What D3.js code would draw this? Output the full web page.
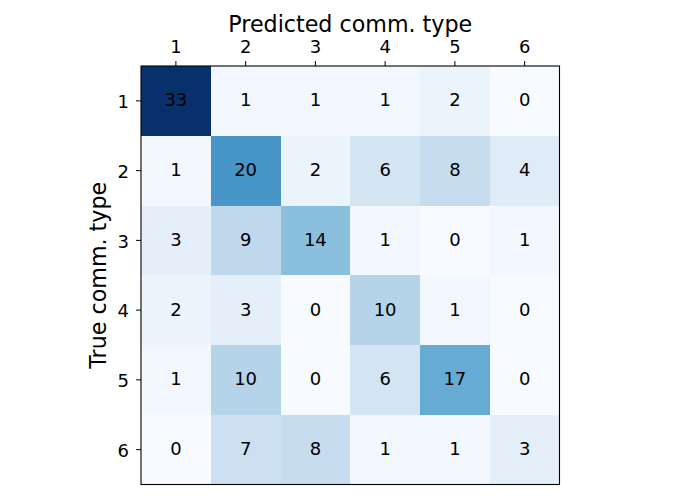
<!DOCTYPE html>
<html>
<head>
<meta charset="utf-8">
<script src="https://cdn.jsdelivr.net/npm/d3@7"></script>
<style>
  html, body { margin: 0; padding: 0; background: #fff; }
  svg { display: block; font-family: "DejaVu Sans", sans-serif; }
</style>
</head>
<body>
<svg id="chart" width="700" height="500"></svg>
<script>
// ---- data ----
const predictedLabels = ["1", "2", "3", "4", "5", "6"];
const trueLabels = ["1", "2", "3", "4", "5", "6"];
const row1 = [33, 1, 1, 1, 2, 0];
const row2 = [1, 20, 2, 6, 8, 4];
const row3 = [3, 9, 14, 1, 0, 1];
const row4 = [2, 3, 0, 10, 1, 0];
const row5 = [1, 10, 0, 6, 17, 0];
const row6 = [0, 7, 8, 1, 1, 3];
const matrix = [row1, row2, row3, row4, row5, row6];
const xTitle = "Predicted comm. type";
const yTitle = "True comm. type";

// matplotlib "Blues" stops
const bluesStops = ["#f7fbff", "#deebf7", "#c6dbef", "#9ecae1", "#6baed6",
                    "#4292c6", "#2171b5", "#08519c", "#08306b"];

const svg = d3.select("#chart");
const mLeft = 141, mTop = 66, size = 418.5;
const tickFont = 18, titleFont = 22.2;

const x = d3.scaleBand().domain(predictedLabels).range([mLeft, mLeft + size]);
const y = d3.scaleBand().domain(trueLabels).range([mTop, mTop + size]);

const vmax = d3.max(matrix.flat());
const vmin = d3.min(matrix.flat());
const color = d3.scaleLinear()
  .domain(bluesStops.map((_, i) => vmin + (vmax - vmin) * i / (bluesStops.length - 1)))
  .range(bluesStops)
  .interpolate(d3.interpolateRgb);

const cells = [];
matrix.forEach((row, i) => row.forEach((v, j) => cells.push({r: trueLabels[i], c: predictedLabels[j], v})));

svg.append("g").selectAll("rect").data(cells).join("rect")
  .attr("x", d => x(d.c))
  .attr("y", d => y(d.r))
  .attr("width", x.bandwidth() + 0.5)
  .attr("height", y.bandwidth() + 0.5)
  .attr("fill", d => color(d.v))
  .attr("shape-rendering", "crispEdges");

svg.append("g").selectAll("text").data(cells).join("text")
  .attr("x", d => x(d.c) + x.bandwidth() / 2)
  .attr("y", d => y(d.r) + y.bandwidth() / 2 + 5.6)
  .attr("text-anchor", "middle")
  .attr("font-size", tickFont)
  .attr("fill", "#000")
  .text(d => d.v);

// frame
svg.append("rect")
  .attr("x", mLeft).attr("y", mTop)
  .attr("width", size).attr("height", size)
  .attr("fill", "none").attr("stroke", "#000").attr("stroke-width", 1.1);

// axes
const xAxis = svg.append("g")
  .attr("transform", `translate(0,${mTop})`)
  .call(d3.axisTop(x).tickSize(5).tickPadding(7.7));
const yAxis = svg.append("g")
  .attr("transform", `translate(${mLeft},0)`)
  .call(d3.axisLeft(y).tickSize(5).tickPadding(7));
[xAxis, yAxis].forEach(g => {
  g.select(".domain").remove();
  g.selectAll(".tick line").attr("stroke", "#000").attr("stroke-width", 1);
  g.selectAll(".tick text").attr("font-size", tickFont).attr("fill", "#000")
    .attr("font-family", "DejaVu Sans, sans-serif");
});
yAxis.selectAll(".tick text").attr("dy", null).attr("y", 7.3);

// titles
svg.append("text")
  .attr("x", mLeft + size / 2).attr("y", 32)
  .attr("text-anchor", "middle")
  .attr("font-size", titleFont)
  .attr("fill", "#000")
  .text(xTitle);

svg.append("text")
  .attr("transform", `translate(106,${mTop + size / 2}) rotate(-90)`)
  .attr("text-anchor", "middle")
  .attr("font-size", titleFont)
  .attr("fill", "#000")
  .text(yTitle);
</script>
</body>
</html>
